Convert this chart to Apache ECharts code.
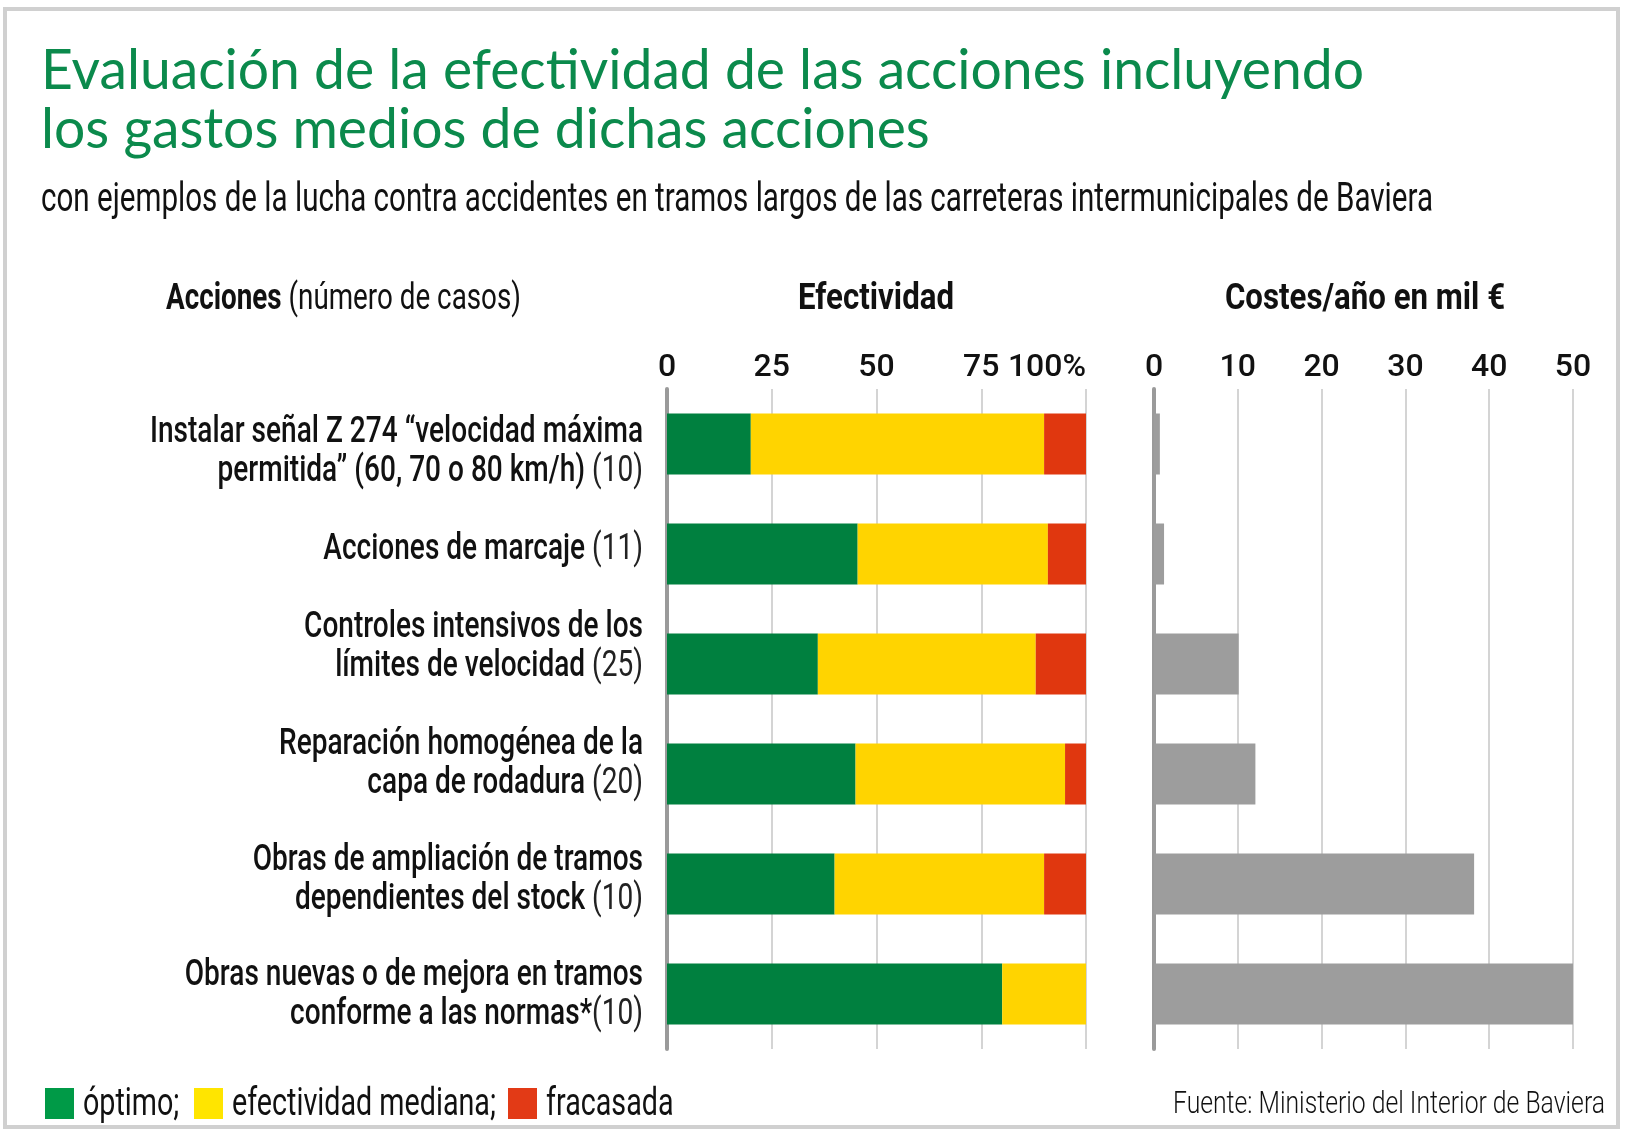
<!DOCTYPE html>
<html>
<head>
<meta charset="utf-8">
<title>Efectividad de las acciones</title>
<script src="https://cdn.jsdelivr.net/npm/echarts@6/dist/echarts.min.js"></script>
<style>
  html, body { margin: 0; padding: 0; background: #fff; }
  #chart { width: 1626px; height: 1135px; }
</style>
</head>
<body>
<div id="chart"></div>
<script>
// categories (each label split in its lines, last line followed by the number of cases)
var acciones = [
    ['Instalar señal Z 274 “velocidad máxima', 'permitida” (60, 70 o 80 km/h)'],
    ['Acciones de marcaje'],
    ['Controles intensivos de los', 'límites de velocidad'],
    ['Reparación homogénea de la', 'capa de rodadura'],
    ['Obras de ampliación de tramos', 'dependientes del stock'],
    ['Obras nuevas o de mejora en tramos', 'conforme a las normas*']
];
var casos = [' (10)', ' (11)', ' (25)', ' (20)', ' (10)', '(10)'];

// efectividad in %
var optimo    = [20, 45.5, 36, 45, 40, 80];
var mediana   = [70, 45.4, 52, 50, 50, 20];
var fracasada = [10, 9.1, 12, 5, 10, 0];

// costes/año en mil €
var costes = [0.7, 1.2, 10.1, 12.1, 38.2, 50];

var nombresSeries = ['óptimo', 'efectividad mediana', 'fracasada'];
var textoLeyenda = ['óptimo;', 'efectividad mediana;', 'fracasada'];

// the labels of the original are not exactly centred on their bars
var labelShift = [8, -4, -17, -10, -4, 1];

var COLORS = {
    green: '#00803f',
    yellow: '#ffd400',
    red: '#e0370f',
    gray: '#9d9d9d',
    title: '#0b8a4c'
};

var categorias = acciones.map(function (l, i) { return l.join(' ') + casos[i]; });

// measure text to squeeze it like the condensed font of the original
var ctx = document.createElement('canvas').getContext('2d');
function textWidth(font, str) {
    ctx.font = font;
    return ctx.measureText(str).width;
}

var myChart = echarts.init(document.getElementById('chart'));

var axisLabelStyle = {
    fontSize: 32,
    fontFamily: 'Roboto',
    fontWeight: 500,
    color: '#111',
    margin: 5
};

option = {
    animation: false,
    backgroundColor: '#fff',
    grid: [
        {left: 667, top: 389, width: 419, height: 660},
        {left: 1154, top: 389, width: 419, height: 660}
    ],
    xAxis: [
        {
            gridIndex: 0,
            type: 'value',
            position: 'top',
            min: 0,
            max: 100,
            interval: 25,
            axisLine: {show: false},
            axisTick: {show: false},
            splitLine: {lineStyle: {color: '#d4d4d4', width: 2}},
            axisLabel: Object.assign({}, axisLabelStyle, {
                alignMaxLabel: 'right',
                formatter: function (v) { return v === 100 ? '100%' : v; }
            })
        },
        {
            gridIndex: 1,
            type: 'value',
            position: 'top',
            min: 0,
            max: 50,
            interval: 10,
            axisLine: {show: false},
            axisTick: {show: false},
            splitLine: {lineStyle: {color: '#d4d4d4', width: 2}},
            axisLabel: axisLabelStyle
        }
    ],
    yAxis: [
        {
            gridIndex: 0,
            type: 'category',
            inverse: true,
            data: categorias,
            axisLine: {show: true, lineStyle: {color: '#9a9a9a', width: 4}},
            axisTick: {show: false},
            axisLabel: {show: false}
        },
        {
            gridIndex: 1,
            type: 'category',
            inverse: true,
            data: categorias,
            axisLine: {show: true, lineStyle: {color: '#9a9a9a', width: 4}},
            axisTick: {show: false},
            axisLabel: {show: false}
        }
    ],
    series: [
        {
            name: nombresSeries[0], type: 'bar', stack: 'efectividad',
            xAxisIndex: 0, yAxisIndex: 0, barWidth: 61,
            itemStyle: {color: COLORS.green}, data: optimo
        },
        {
            name: nombresSeries[1], type: 'bar', stack: 'efectividad',
            xAxisIndex: 0, yAxisIndex: 0, barWidth: 61,
            itemStyle: {color: COLORS.yellow}, data: mediana
        },
        {
            name: nombresSeries[2], type: 'bar', stack: 'efectividad',
            xAxisIndex: 0, yAxisIndex: 0, barWidth: 61,
            itemStyle: {color: COLORS.red}, data: fracasada
        },
        {
            name: 'costes', type: 'bar',
            xAxisIndex: 1, yAxisIndex: 1, barWidth: 61,
            itemStyle: {color: COLORS.gray}, data: costes
        }
    ]
};
myChart.setOption(option);

// texts, squeezed horizontally
var titulo1 = 'Evaluación de la efectividad de las acciones incluyendo';
var titulo2 = 'los gastos medios de dichas acciones';
var subtitulo = 'con ejemplos de la lucha contra accidentes en tramos largos de las carreteras intermunicipales de Baviera';
var fuente = 'Fuente: Ministerio del Interior de Baviera';

var sTitle = 1323 / textWidth('400 56px Lato', titulo1);
var sSub = 1392 / textWidth('400 40px Roboto', subtitulo);
var sHead = 156 / textWidth('700 36px Roboto', 'Efectividad');
var sAcc = 355 / (textWidth('700 36px Roboto', 'Acciones') + textWidth('400 36px Roboto', ' (número de casos)'));
var sLabel = 493 / textWidth('500 37px Roboto', acciones[0][0]);
var sLegend = 264 / textWidth('400 38px Roboto', textoLeyenda[1]);
var sSource = 432 / textWidth('300 31px Roboto', fuente);

var graphics = [
    {
        type: 'rect', silent: true,
        shape: {x: 5, y: 9, width: 1613, height: 1118},
        style: {fill: 'none', stroke: '#d0d0d0', lineWidth: 4}
    },
    {
        type: 'text', x: 41, y: 71, scaleX: sTitle,
        style: {text: titulo1, font: '400 56px Lato', fill: COLORS.title, verticalAlign: 'middle'}
    },
    {
        type: 'text', x: 41, y: 130, scaleX: sTitle,
        style: {text: titulo2, font: '400 56px Lato', fill: COLORS.title, verticalAlign: 'middle'}
    },
    {
        type: 'text', x: 41, y: 201, scaleX: sSub,
        style: {text: subtitulo, font: '400 40px Roboto', fill: '#111', verticalAlign: 'middle'}
    },
    {
        type: 'text', x: 166, y: 300, scaleX: sAcc,
        style: {
            text: '{b|Acciones}{r| (número de casos)}',
            verticalAlign: 'middle',
            rich: {
                b: {fontSize: 36, fontFamily: 'Roboto', fontWeight: 700, fill: '#111'},
                r: {fontSize: 36, fontFamily: 'Roboto', fontWeight: 400, fill: '#111'}
            }
        }
    },
    {
        type: 'text', x: 876, y: 300, scaleX: sHead,
        style: {text: 'Efectividad', font: '700 36px Roboto', fill: '#111', align: 'center', verticalAlign: 'middle'}
    },
    {
        type: 'text', x: 1365, y: 300, scaleX: sHead,
        style: {text: 'Costes/año en mil €', font: '700 36px Roboto', fill: '#111', align: 'center', verticalAlign: 'middle'}
    },
    {
        type: 'text', x: 1605, y: 1105, scaleX: sSource,
        style: {text: fuente, font: '300 31px Roboto', fill: '#111', align: 'right', verticalAlign: 'middle'}
    }
];

// legend
var legendColors = ['#009a47', '#ffe500', '#e23a16'];
var legendX = [45, 194, 508];
legendColors.forEach(function (c, i) {
    graphics.push({
        type: 'rect', silent: true,
        shape: {x: legendX[i], y: 1088, width: 29, height: 31},
        style: {fill: c}
    });
    graphics.push({
        type: 'text', x: legendX[i] + 38, y: 1105, scaleX: sLegend,
        style: {text: textoLeyenda[i], font: '400 38px Roboto', fill: '#111', verticalAlign: 'middle'}
    });
});

// category labels, placed on the category axis
acciones.forEach(function (lines, i) {
    var y = myChart.convertToPixel({yAxisIndex: 0}, categorias[i]) + labelShift[i];
    var parts = lines.map(function (l, k) {
        var t = '{b|' + l + '}';
        if (k === lines.length - 1) t += '{n|' + casos[i] + '}';
        return t;
    });
    graphics.push({
        type: 'text', x: 643, y: y, scaleX: sLabel,
        style: {
            text: parts.join('\n'),
            align: 'right',
            verticalAlign: 'middle',
            rich: {
                b: {fontSize: 37, lineHeight: 39, fontFamily: 'Roboto', fontWeight: 500, fill: '#111'},
                n: {fontSize: 37, lineHeight: 39, fontFamily: 'Roboto', fontWeight: 400, fill: '#222'}
            }
        }
    });
});

myChart.setOption({graphic: graphics});
</script>
</body>
</html>
